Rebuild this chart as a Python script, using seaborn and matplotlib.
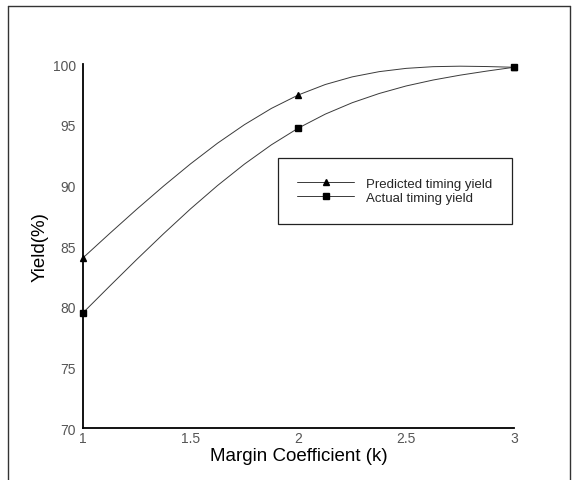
import matplotlib
matplotlib.use("Agg")
import matplotlib.pyplot as plt
from matplotlib.lines import Line2D
from matplotlib.ticker import MultipleLocator
import seaborn as sns
import pandas as pd

# ---- data ----
k_points = [1, 2, 3]
predicted_points = [84.0, 97.45, 99.73]
actual_points = [79.47, 94.72, 99.73]

k_curve = [1, 1.125, 1.25, 1.375, 1.5, 1.625, 1.75, 1.875, 2,
           2.125, 2.25, 2.375, 2.5, 2.625, 2.75, 2.875, 3]
predicted_curve = [84.0, 86.03, 88.02, 89.94, 91.77, 93.47, 95.0, 96.34, 97.45,
                   98.31, 98.94, 99.37, 99.64, 99.78, 99.82, 99.79, 99.73]
actual_curve = [79.47, 81.69, 83.88, 86.01, 88.06, 89.98, 91.75, 93.34, 94.72,
                95.87, 96.81, 97.57, 98.19, 98.68, 99.08, 99.42, 99.73]

series_names = ["Predicted timing yield", "Actual timing yield"]
x_label = "Margin Coefficient (k)"
y_label = "Yield(%)"

sns.set_style("white")
plt.rcParams["font.family"] = ["Liberation Sans", "DejaVu Sans"]

curves = pd.DataFrame({
    "k": k_curve * 2,
    "yield": predicted_curve + actual_curve,
    "series": [series_names[0]] * len(k_curve) + [series_names[1]] * len(k_curve),
})

fig = plt.figure(figsize=(5.77, 4.81), dpi=100)
ax = fig.add_axes([82.7 / 577, 1 - 429 / 481, (514 - 82.7) / 577, (429 - 65) / 481])

line_col = "#3a3a3a"
sns.lineplot(data=curves, x="k", y="yield", hue="series", units="series",
             estimator=None, sort=False, palette=[line_col, line_col],
             linewidth=0.7, legend=False, ax=ax, clip_on=False)

ax.plot(k_points, predicted_points, linestyle="none", marker="^", markersize=4.5,
        color="black", clip_on=False, zorder=5)
ax.plot(k_points, actual_points, linestyle="none", marker="s", markersize=5,
        color="black", clip_on=False, zorder=6)

ax.set_xlim(1, 3)
ax.set_ylim(70, 100)
ax.xaxis.set_major_locator(MultipleLocator(0.5))
ax.xaxis.set_minor_locator(MultipleLocator(0.1))
ax.yaxis.set_major_locator(MultipleLocator(5))
ax.yaxis.set_minor_locator(MultipleLocator(1))
ax.set_xticks([1, 1.5, 2, 2.5, 3])
ax.set_xticklabels(["1", "1.5", "2", "2.5", "3"])

for side in ["top", "right"]:
    ax.spines[side].set_visible(False)
for side in ["left", "bottom"]:
    ax.spines[side].set_linewidth(1.3)
    ax.spines[side].set_color("black")

ax.tick_params(which="major", direction="in", length=6.5, width=1.1, color="black",
               labelsize=10, labelcolor="#555555", pad=5)
ax.tick_params(which="minor", direction="in", length=3.8, width=0.9, color="black")
ax.tick_params(axis="x", which="major", length=5.5, pad=2.5)
ax.tick_params(axis="x", which="minor", length=3.0)

ax.set_xlabel(x_label, fontsize=13.5, color="black")
ax.set_ylabel(y_label, fontsize=13.5, color="black")
ax.xaxis.set_label_coords(0.5, -28 / 364, transform=ax.transAxes)
ax.xaxis.label.set_va("center")
ax.yaxis.set_label_coords((40 - 82.7) / 431.3, 0.5, transform=ax.transAxes)
ax.yaxis.label.set_va("center")

handles = [
    Line2D([], [], color=line_col, linewidth=0.7, marker="^", markersize=4.5,
           markerfacecolor="black", markeredgecolor="black"),
    Line2D([], [], color=line_col, linewidth=0.7, marker="s", markersize=5,
           markerfacecolor="black", markeredgecolor="black"),
]
leg = ax.legend(handles, series_names, loc="upper left",
                bbox_to_anchor=(277.5 / 577, 1 - 158.5 / 481),
                bbox_transform=fig.transFigure, fontsize=9.5, frameon=True,
                fancybox=False, shadow=False, borderpad=1.5, handlelength=4.3,
                handletextpad=0.9, labelspacing=0.16, borderaxespad=0)
leg.get_frame().set_edgecolor("#222222")
leg.get_frame().set_linewidth(0.9)
leg.get_frame().set_alpha(1)

# outer frame of the figure
fx0, fx1, fy = 7.5 / 577, 570 / 577, 1 - 7 / 481
for xs, ys in [([fx0, fx0], [0, fy]), ([fx0, fx1], [fy, fy]), ([fx1, fx1], [0, fy])]:
    fig.add_artist(Line2D(xs, ys, transform=fig.transFigure,
                          color="#333333", linewidth=1.0))

fig.savefig("out.png", dpi=100)
